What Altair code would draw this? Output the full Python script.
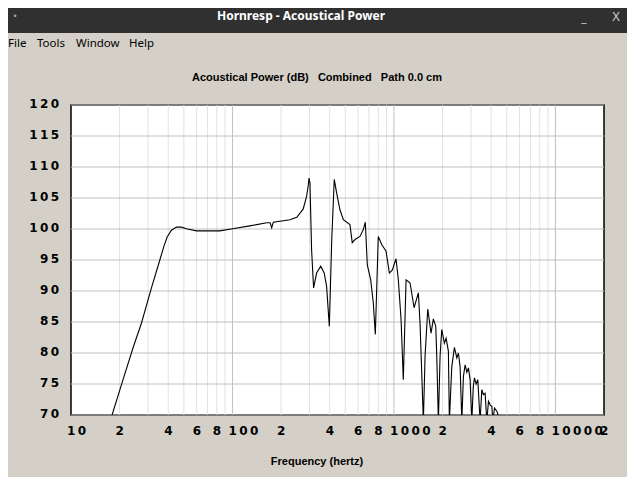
import altair as alt
import pandas as pd

# ---- data ----
freq_hz = [17.96, 21.0, 24.2, 27.3, 31.5, 35.5, 37.6, 39.4, 41.9, 45.0, 48.3, 51.9, 59.9,
           83.5, 100, 128, 163, 171, 175, 179, 227, 250, 274, 288, 295, 298, 302, 309,
           318, 332, 352, 370, 383, 398, 412, 427, 442, 463, 486, 534, 552, 574, 616,
           646, 665, 684, 718, 745, 767, 800, 840, 894, 937, 978, 1030, 1065, 1107,
           1143, 1189, 1259, 1333, 1417, 1451, 1522, 1559, 1620, 1698, 1755, 1816,
           1842, 1885, 1931, 1978, 2053, 2104, 2174, 2205, 2282, 2369, 2452, 2508,
           2569, 2633, 2693, 2760, 2830, 2893, 2964, 3036, 3100, 3151, 3230, 3307,
           3417, 3502, 3580, 3671, 3762, 3850, 3950, 4041, 4100, 4195, 4341, 4482, 4613]
power_db = [70.0, 75.7, 80.8, 84.8, 90.5, 95.0, 97.2, 98.7, 99.8, 100.3, 100.3, 100.05, 99.7,
            99.7, 100.05, 100.5, 101.0, 101.0, 100.2, 101.1, 101.5, 101.9, 103.2, 105.3, 107.1,
            108.2, 107.4, 96.7, 90.5, 92.9, 94.0, 92.9, 90.7, 84.3, 98.3, 108.0, 105.8,
            103.1, 101.5, 100.7, 97.8, 98.3, 98.8, 99.9, 101.1, 94.2, 91.8, 88.1, 83.0,
            98.8, 97.5, 96.4, 92.9, 93.4, 95.2, 91.8, 85.4, 75.7, 91.8, 91.3, 87.3, 89.7,
            84.8, 69.0, 79.5, 87.1, 83.2, 85.5, 84.3, 79.5, 69.0, 79.5, 83.8, 81.6, 82.4,
            80.3, 69.0, 77.8, 80.9, 79.2, 80.0, 77.8, 69.0, 76.2, 78.1, 76.9, 77.6, 75.7,
            69.0, 74.5, 76.0, 75.0, 75.7, 69.0, 74.1, 73.3, 73.5, 69.0, 72.2, 71.6, 71.4,
            69.0, 71.1, 70.6, 69.5, 69.0]

y_ticks = [70, 75, 80, 85, 90, 95, 100, 105, 110, 115, 120]
x_label_freqs = [10, 20, 40, 60, 80, 100, 200, 400, 600, 800, 1000, 2000, 4000, 6000, 8000, 10000, 20000]
x_label_texts = ["10", "2", "4", "6", "8", "100", "2", "4", "6", "8", "1000", "2", "4", "6", "8", "10000", "2"]
minor_grid = [20, 30, 40, 50, 60, 70, 80, 90, 200, 300, 400, 500, 600, 700, 800, 900,
              2000, 3000, 4000, 5000, 6000, 7000, 8000, 9000]
major_grid = [100, 1000, 10000]

chart_title = "Acoustical Power (dB)\u00a0\u00a0\u00a0Combined\u00a0\u00a0\u00a0Path 0.0 cm"
x_title = "Frequency (hertz)"
window_title = "Hornresp - Acoustical Power"
menu_items = ["File", "Tools", "Window", "Help"]
menu_x = [-63, -34, 5, 58]

W, H = 533, 310
BG = "#d4d0c8"
xs = alt.Scale(type="log", domain=[10, 20000], nice=False)
ys = alt.Scale(domain=[70, 120], nice=False, zero=False)


def spaced(s):
    return "\u2009".join(list(s))


curve = pd.DataFrame({"f": freq_hz, "db": power_db})
ylab = pd.DataFrame({"v": y_ticks, "t": [spaced(str(v)) for v in y_ticks]})
xlab = pd.DataFrame({"f": x_label_freqs, "t": [spaced(t) for t in x_label_texts]})
menu = pd.DataFrame({"t": menu_items, "x": menu_x})

minor = alt.Chart(pd.DataFrame({"f": minor_grid})).mark_rule(color="#e2e2e2", strokeWidth=1).encode(
    x=alt.X("f:Q", scale=xs, axis=None))
hgrid = alt.Chart(pd.DataFrame({"v": y_ticks})).mark_rule(color="#c0c0c0", strokeWidth=1).encode(
    y=alt.Y("v:Q", scale=ys, axis=None))
major = alt.Chart(pd.DataFrame({"f": major_grid})).mark_rule(color="#c0c0c0", strokeWidth=1).encode(
    x=alt.X("f:Q", scale=xs, axis=None))
line = alt.Chart(curve).mark_line(color="black", strokeWidth=1.1, clip=True).encode(
    x=alt.X("f:Q", scale=xs, axis=None),
    y=alt.Y("db:Q", scale=ys, axis=None))

ylabels = alt.Chart(ylab).mark_text(align="right", baseline="middle", font="DejaVu Sans",
                                    fontWeight="bold", fontSize=12, dy=-1, color="black").encode(
    y=alt.Y("v:Q", scale=ys, axis=None), x=alt.value(-12), text="t:N")
xlabels = alt.Chart(xlab).mark_text(align="left", baseline="middle", font="DejaVu Sans",
                                    fontWeight="bold", fontSize=12, dx=-4, color="black").encode(
    x=alt.X("f:Q", scale=xs, axis=None), y=alt.value(326), text="t:N")

one = pd.DataFrame({"a": [0]})
titlebar = alt.Chart(one).mark_rect(color="#303030").encode(
    x=alt.value(-63), x2=alt.value(556), y=alt.value(-97), y2=alt.value(-72))
wtitle = alt.Chart(one).mark_text(text=window_title, font="Noto Sans", fontWeight="bold",
                                  fontSize=12, color="white", align="center", baseline="middle").encode(
    x=alt.value(230), y=alt.value(-89))
wdot = alt.Chart(one).mark_text(text="\u2022", fontSize=9, color="#aaaaaa", align="center",
                                baseline="middle").encode(x=alt.value(-56), y=alt.value(-89))
wmin = alt.Chart(one).mark_text(text="_", font="Noto Sans", fontSize=12, color="#cccccc", align="center",
                                baseline="middle").encode(x=alt.value(513), y=alt.value(-87))
wclose = alt.Chart(one).mark_text(text="X", font="Noto Sans", fontSize=13, color="#cccccc", align="center",
                                  baseline="middle").encode(x=alt.value(545), y=alt.value(-88))
menutext = alt.Chart(menu).mark_text(font="Noto Sans", fontSize=11.5, color="black", align="left",
                                     baseline="middle").encode(x=alt.X("x:Q", scale=None), y=alt.value(-61),
                                                               text="t:N")
ctitle = alt.Chart(one).mark_text(text=chart_title, font="Liberation Sans", fontWeight="bold",
                                  fontSize=11, color="black", align="center", baseline="middle").encode(
    x=alt.value(246), y=alt.value(-27))
xtitle = alt.Chart(one).mark_text(text=x_title, font="Liberation Sans", fontWeight="bold",
                                  fontSize=11, color="black", align="center", baseline="middle").encode(
    x=alt.value(246), y=alt.value(357))

chart = alt.layer(minor, hgrid, major, line, ylabels, xlabels, titlebar, wtitle, wdot, wmin, wclose,
                  menutext, ctitle, xtitle).resolve_scale(x="shared").properties(
    width=W, height=H,
    autosize=alt.AutoSizeParams(type="none"),
    padding={"left": 63, "top": 97, "right": 23, "bottom": 62},
    background=BG,
).configure_view(stroke="black", strokeWidth=1.5, fill="white")

chart.save("out.html", embed_options={"renderer": "svg", "actions": False})
